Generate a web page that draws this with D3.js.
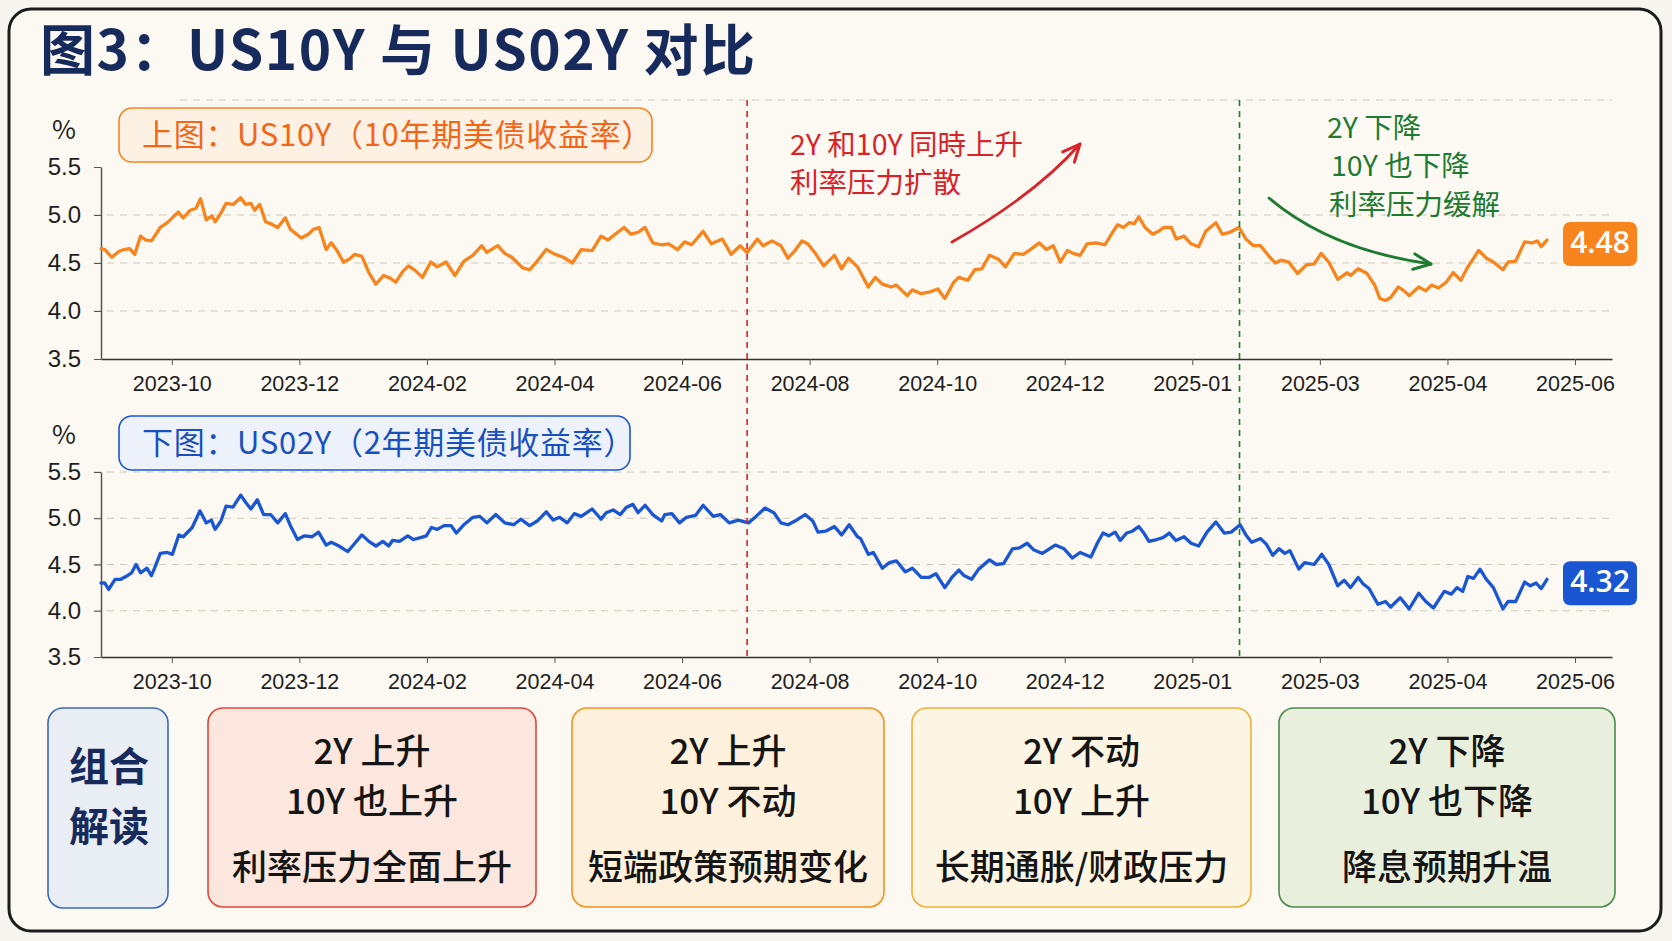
<!DOCTYPE html>
<html>
<head>
<meta charset="utf-8">
<script src="https://cdn.jsdelivr.net/npm/d3@7"></script>
<style>
  body { margin: 0; background: #f7f5ef; }
  svg { display: block; font-family: "Noto Sans CJK SC", "Noto Sans", sans-serif; }
</style>
</head>
<body>
<div id="chart"></div>
<script>
// data: t = months from the 2023-10 tick, v = yield in %
const xTickLabels = ["2023-10", "2023-12", "2024-02", "2024-04", "2024-06", "2024-08",
                     "2024-10", "2024-12", "2025-01", "2025-03", "2025-04", "2025-06"];
const yTicks = [3.5, 4.0, 4.5, 5.0, 5.5];

const us10y = [[-1.11,4.65],[-1.05,4.64],[-0.94,4.56],[-0.83,4.62],[-0.75,4.64],[-0.66,4.65],[-0.58,4.59],[-0.49,4.78],[-0.41,4.74],[-0.32,4.73],[-0.18,4.87],[-0.07,4.92],[0.10,5.03],[0.18,4.97],[0.29,5.05],[0.38,5.07],[0.45,5.17],[0.54,4.95],[0.63,4.99],[0.68,4.93],[0.77,5.02],[0.85,5.12],[0.96,5.11],[1.08,5.18],[1.16,5.11],[1.24,5.12],[1.30,5.05],[1.38,5.11],[1.47,4.93],[1.58,4.90],[1.66,4.87],[1.78,4.97],[1.86,4.85],[2.03,4.76],[2.14,4.80],[2.22,4.85],[2.31,4.87],[2.42,4.64],[2.50,4.71],[2.59,4.63],[2.69,4.51],[2.78,4.54],[2.87,4.59],[2.98,4.57],[3.09,4.40],[3.20,4.28],[3.32,4.37],[3.43,4.34],[3.51,4.30],[3.62,4.41],[3.71,4.47],[3.82,4.42],[3.93,4.35],[4.06,4.51],[4.16,4.46],[4.30,4.51],[4.44,4.37],[4.58,4.52],[4.72,4.58],[4.86,4.68],[4.94,4.61],[5.11,4.68],[5.22,4.60],[5.33,4.56],[5.50,4.45],[5.61,4.43],[5.73,4.52],[5.87,4.64],[6.01,4.59],
  [6.14,4.56],[6.28,4.50],[6.42,4.64],[6.59,4.63],[6.73,4.78],[6.84,4.74],[6.95,4.80],[7.09,4.87],[7.20,4.80],[7.31,4.82],[7.42,4.87],[7.54,4.71],[7.68,4.69],[7.79,4.70],[7.93,4.64],[8.04,4.72],[8.15,4.69],[8.33,4.83],[8.46,4.70],[8.63,4.75],[8.77,4.59],[8.91,4.68],[9.02,4.61],[9.18,4.75],[9.27,4.68],[9.41,4.73],[9.55,4.68],[9.66,4.55],[9.77,4.63],[9.88,4.73],[9.97,4.70],[10.08,4.61],[10.22,4.47],[10.39,4.58],[10.50,4.44],[10.61,4.55],[10.75,4.46],[10.92,4.25],[11.03,4.35],[11.14,4.28],[11.28,4.25],[11.36,4.27],[11.53,4.16],[11.61,4.22],[11.75,4.18],[11.89,4.20],[12.01,4.23],[12.12,4.13],[12.26,4.30],[12.34,4.35],[12.48,4.32],[12.59,4.43],[12.70,4.44],[12.82,4.58],[12.96,4.54],[13.07,4.46],[13.21,4.60],[13.35,4.59],[13.46,4.64],[13.60,4.71],[13.71,4.64],[13.82,4.68],[13.93,4.51],[14.04,4.63],[14.13,4.60],[14.24,4.58],[14.35,4.70],[14.49,4.71],
  [14.63,4.69],[14.75,4.82],[14.83,4.90],[14.92,4.87],[15.01,4.92],[15.09,4.91],[15.16,4.98],[15.26,4.87],[15.38,4.80],[15.47,4.83],[15.55,4.87],[15.67,4.87],[15.75,4.75],[15.87,4.78],[15.98,4.70],[16.10,4.67],[16.21,4.83],[16.37,4.92],[16.47,4.80],[16.59,4.82],[16.73,4.87],[16.84,4.75],[16.96,4.68],[17.07,4.68],[17.19,4.58],[17.30,4.50],[17.39,4.53],[17.51,4.51],[17.65,4.39],[17.79,4.48],[17.91,4.49],[18.02,4.60],[18.14,4.51],[18.28,4.33],[18.43,4.40],[18.48,4.37],[18.60,4.44],[18.74,4.39],[18.86,4.27],[18.94,4.13],[19.03,4.11],[19.11,4.14],[19.23,4.25],[19.32,4.21],[19.40,4.16],[19.55,4.25],[19.66,4.21],[19.75,4.27],[19.86,4.24],[19.98,4.30],[20.09,4.40],[20.21,4.32],[20.32,4.46],[20.49,4.63],[20.61,4.55],[20.72,4.51],[20.87,4.43],[20.95,4.51],[21.07,4.52],[21.21,4.72],[21.33,4.71],[21.41,4.73],[21.47,4.67],[21.56,4.74]];

const us02y = [[-1.11,4.30],[-1.05,4.30],[-0.99,4.23],[-0.89,4.34],[-0.80,4.34],[-0.72,4.37],[-0.63,4.41],[-0.56,4.50],[-0.49,4.41],[-0.39,4.46],[-0.32,4.38],[-0.27,4.46],[-0.18,4.62],[-0.07,4.63],[0.01,4.61],[0.11,4.82],[0.18,4.80],[0.32,4.90],[0.44,5.08],[0.54,4.95],[0.62,4.98],[0.68,4.88],[0.77,4.97],[0.85,5.13],[0.96,5.12],[1.08,5.25],[1.16,5.17],[1.24,5.10],[1.34,5.20],[1.44,5.04],[1.55,5.04],[1.66,4.95],[1.78,5.05],[1.86,4.92],[1.97,4.77],[2.08,4.81],[2.20,4.80],[2.30,4.85],[2.42,4.71],[2.50,4.74],[2.62,4.70],[2.76,4.64],[2.87,4.73],[2.98,4.82],[3.09,4.75],[3.20,4.70],[3.31,4.75],[3.40,4.70],[3.46,4.76],[3.57,4.75],[3.70,4.81],[3.79,4.77],[3.90,4.79],[3.99,4.81],[4.07,4.90],[4.16,4.88],[4.27,4.92],[4.38,4.92],[4.46,4.84],[4.58,4.93],[4.72,5.01],[4.83,5.02],[4.94,4.95],[5.08,5.04],[5.22,4.95],[5.36,4.93],[5.47,4.99],[5.61,4.92],[5.73,4.97],[5.87,5.07],[5.98,4.98],
  [6.08,5.01],[6.20,4.95],[6.31,5.05],[6.42,5.02],[6.59,5.10],[6.73,4.99],[6.81,5.06],[6.92,5.09],[7.03,5.04],[7.13,5.12],[7.23,5.15],[7.31,5.06],[7.42,5.14],[7.54,5.04],[7.68,4.97],[7.73,5.04],[7.84,5.05],[7.96,4.95],[8.07,5.01],[8.21,5.03],[8.33,5.14],[8.49,5.02],[8.60,5.04],[8.74,4.95],[8.88,4.98],[9.04,4.95],[9.16,5.02],[9.30,5.11],[9.44,5.06],[9.55,4.95],[9.66,4.93],[9.77,4.97],[9.93,5.04],[10.05,4.97],[10.13,4.85],[10.25,4.86],[10.39,4.91],[10.50,4.82],[10.62,4.93],[10.75,4.80],[10.80,4.78],[10.92,4.61],[11.00,4.63],[11.14,4.46],[11.25,4.52],[11.36,4.54],[11.50,4.42],[11.61,4.46],[11.75,4.36],[11.87,4.36],[11.98,4.40],[12.12,4.25],[12.23,4.36],[12.34,4.44],[12.42,4.38],[12.54,4.34],[12.65,4.45],[12.82,4.55],[12.93,4.50],[13.04,4.51],[13.18,4.67],[13.29,4.68],[13.41,4.73],[13.51,4.66],[13.65,4.62],[13.85,4.71],[13.99,4.67],[14.12,4.57],[14.24,4.63],[14.41,4.58],[14.51,4.73],
  [14.60,4.84],[14.69,4.81],[14.79,4.85],[14.87,4.76],[14.97,4.84],[15.06,4.86],[15.16,4.91],[15.24,4.84],[15.32,4.75],[15.44,4.77],[15.54,4.79],[15.64,4.84],[15.74,4.76],[15.87,4.80],[15.98,4.73],[16.10,4.70],[16.23,4.85],[16.37,4.96],[16.50,4.84],[16.61,4.85],[16.75,4.93],[16.84,4.82],[16.93,4.74],[17.07,4.78],[17.16,4.72],[17.26,4.60],[17.36,4.67],[17.45,4.62],[17.53,4.65],[17.67,4.45],[17.76,4.52],[17.91,4.50],[18.03,4.61],[18.14,4.50],[18.28,4.27],[18.38,4.33],[18.48,4.25],[18.60,4.36],[18.68,4.29],[18.77,4.24],[18.91,4.07],[19.03,4.10],[19.11,4.04],[19.26,4.14],[19.40,4.02],[19.55,4.19],[19.66,4.10],[19.78,4.03],[19.95,4.21],[20.06,4.18],[20.15,4.25],[20.24,4.21],[20.32,4.37],[20.41,4.35],[20.51,4.45],[20.61,4.34],[20.72,4.25],[20.87,4.02],[20.95,4.10],[21.07,4.10],[21.21,4.31],[21.30,4.27],[21.39,4.30],[21.47,4.24],[21.56,4.34]];

const latest10y = "4.48";
const latest2y = "4.32";
const eventMonths = [9.02, 16.74];   // red: both rise, green: both fall

const comboTitle = ["组合", "解读"];
const combos = [
  ["2Y 上升", "10Y 也上升", "利率压力全面上升"],
  ["2Y 上升", "10Y 不动", "短端政策预期变化"],
  ["2Y 不动", "10Y 上升", "长期通胀/财政压力"],
  ["2Y 下降", "10Y 也下降", "降息预期升温"]
];

const W = 1672, H = 941;
const svg = d3.select("#chart").append("svg").attr("width", W).attr("height", H);

// frame + title
svg.append("rect").attr("x", 9).attr("y", 9).attr("width", 1652).attr("height", 922)
  .attr("rx", 22).attr("fill", "#fbf9f2").attr("stroke", "#1c1c1c").attr("stroke-width", 3);

svg.append("text").attr("x", 40).attr("y", 55).attr("dominant-baseline", "middle")
  .attr("font-size", 55).attr("font-weight", 700).attr("fill", "#172a5c")
  .attr("letter-spacing", 1.5)
  .text("图3：US10Y 与 US02Y 对比");

const x = d3.scaleLinear().domain([-1.11, 22.58]).range([101, 1612]);

function panel(opts) {
  const y = d3.scaleLinear().domain([3.5, 5.5]).range(opts.yRange);
  const g = svg.append("g");

  // grid
  g.selectAll(".grid").data(opts.grid).join("line")
    .attr("x1", 94).attr("x2", 1612)
    .attr("y1", d => y(d)).attr("y2", d => y(d))
    .attr("stroke", "#cfcac0").attr("stroke-width", 1.2).attr("stroke-dasharray", "7,6");

  // axes
  const xa = g.append("g").attr("transform", `translate(0,${y(3.5)})`)
    .call(d3.axisBottom(x).tickValues(d3.range(0, 23, 2))
      .tickFormat((d, i) => xTickLabels[i]).tickSize(6).tickSizeOuter(0).tickPadding(11));
  xa.select(".domain").attr("stroke", "#333").attr("stroke-width", 1.5);
  xa.selectAll(".tick line").attr("stroke", "#555");
  xa.selectAll("text").attr("font-size", 21.5).attr("fill", "#1e1e1e");

  const ya = g.append("g").attr("transform", `translate(101,0)`)
    .call(d3.axisLeft(y).tickValues(yTicks).tickFormat(d3.format(".1f"))
      .tickSize(7).tickSizeOuter(0).tickPadding(13));
  ya.select(".domain").attr("stroke", "#555").attr("stroke-width", 1.5);
  ya.selectAll(".tick line").attr("stroke", "#555");
  ya.selectAll("text").attr("font-size", 24).attr("fill", "#1e1e1e");

  g.append("text").attr("x", 64).attr("y", opts.pctY).attr("text-anchor", "middle")
    .attr("dominant-baseline", "middle").attr("font-size", 26).attr("fill", "#1e1e1e").text("%");

  // label box
  g.append("rect").attr("x", 119).attr("y", opts.box[0]).attr("width", opts.box[1])
    .attr("height", 54).attr("rx", 13)
    .attr("fill", opts.boxFill).attr("stroke", opts.color).attr("stroke-width", 1.6);
  g.append("text").attr("x", 142).attr("y", opts.box[0] + 30).attr("dominant-baseline", "middle")
    .attr("font-size", 31).attr("letter-spacing", 0.7).attr("fill", opts.textColor).text(opts.label);

  // line
  g.append("path").datum(opts.data)
    .attr("fill", "none").attr("stroke", opts.color).attr("stroke-width", 3.3)
    .attr("stroke-linejoin", "round").attr("stroke-linecap", "round")
    .attr("d", d3.line().x(d => x(d[0])).y(d => y(d[1])));

  // latest value tag
  const last = opts.data[opts.data.length - 1];
  const ty = y(last[1]) + 4;
  g.append("rect").attr("x", 1563).attr("y", ty - 22).attr("width", 74).attr("height", 44)
    .attr("rx", 7).attr("fill", opts.color);
  g.append("text").attr("x", 1600).attr("y", ty + 1).attr("text-anchor", "middle")
    .attr("dominant-baseline", "middle").attr("font-size", 30).attr("font-weight", 600)
    .attr("fill", "#fff").attr("font-family", "'Open Sans', 'Noto Sans', sans-serif")
    .text(opts.tag);
  return y;
}

const yTop = panel({
  yRange: [359, 167], grid: [4.0, 4.5, 5.0], pctY: 132,
  box: [108, 533], boxFill: "#fdf1e4", color: "#f7841c", textColor: "#f2661a",
  label: "上图：US10Y（10年期美债收益率）", data: us10y, tag: latest10y
});
const yBot = panel({
  yRange: [657, 472], grid: [4.0, 4.5, 5.0, 5.5], pctY: 437,
  box: [416, 511], boxFill: "#edf2fa", color: "#1a56d2", textColor: "#1a4fbf",
  label: "下图：US02Y（2年期美债收益率）", data: us02y, tag: latest2y
});

// dashed separator above the top panel
svg.append("line").attr("x1", 180).attr("x2", 1612).attr("y1", 100).attr("y2", 100)
  .attr("stroke", "#cfcac0").attr("stroke-width", 1.2).attr("stroke-dasharray", "7,6");

// event lines across both panels
const eventColors = ["#d8232a", "#1f7a32"];
svg.selectAll(".event").data(eventMonths).join("line")
  .attr("x1", d => x(d)).attr("x2", d => x(d))
  .attr("y1", 100).attr("y2", yBot(3.5))
  .attr("stroke", (d, i) => eventColors[i]).attr("stroke-width", 1.6)
  .attr("stroke-dasharray", "6,5");

// annotations
function note(lines, x0, ys, color) {
  lines.forEach((t, i) => svg.append("text").attr("x", x0[i]).attr("y", ys[i])
    .attr("dominant-baseline", "middle").attr("font-size", 28.5).attr("fill", color).text(t));
}
function arrow(p0, c, p1, color) {
  svg.append("path").attr("d", `M${p0[0]},${p0[1]}Q${c[0]},${c[1]} ${p1[0]},${p1[1]}`)
    .attr("fill", "none").attr("stroke", color).attr("stroke-width", 2.8).attr("stroke-linecap", "round");
  const a = Math.atan2(p1[1] - c[1], p1[0] - c[0]), L = 19, w = 0.42;
  svg.append("path")
    .attr("d", `M${p1[0] - L * Math.cos(a - w)},${p1[1] - L * Math.sin(a - w)}L${p1[0]},${p1[1]}L${p1[0] - L * Math.cos(a + w)},${p1[1] - L * Math.sin(a + w)}`)
    .attr("fill", "none").attr("stroke", color).attr("stroke-width", 3)
    .attr("stroke-linecap", "round").attr("stroke-linejoin", "round");
}
note(["2Y 和10Y 同時上升", "利率压力扩散"], [790, 790], [147, 185], "#d8232a");
arrow([952, 242], [1035, 195], [1080, 144], "#d8232a");
note(["2Y 下降", "10Y 也下降", "利率压力缓解"], [1327, 1331, 1329], [130, 168, 207], "#1f7a32");
arrow([1269, 198], [1330, 250], [1431, 264], "#1f7a32");

// bottom interpretation boxes
svg.append("rect").attr("x", 48).attr("y", 708).attr("width", 120).attr("height", 200)
  .attr("rx", 15).attr("fill", "#e9eef5").attr("stroke", "#3a6ab8").attr("stroke-width", 1.6);
comboTitle.forEach((t, i) => svg.append("text").attr("x", 109).attr("y", 770 + i * 60)
  .attr("text-anchor", "middle").attr("dominant-baseline", "middle")
  .attr("font-size", 40).attr("font-weight", 700).attr("fill", "#172a5c").text(t));

const boxX = [208, 572, 912, 1279], boxW = [328, 312, 339, 336];
const boxStroke = ["#e2453a", "#f5901e", "#f0b03a", "#4a8a4a"];
const boxFill = ["#fbe7dd", "#fdf0dc", "#fdf5e3", "#e9efdd"];
const cards = svg.selectAll(".card").data(combos).join("g");
cards.append("rect").attr("x", (d, i) => boxX[i]).attr("y", 708)
  .attr("width", (d, i) => boxW[i]).attr("height", 199).attr("rx", 15)
  .attr("fill", (d, i) => boxFill[i]).attr("stroke", (d, i) => boxStroke[i]).attr("stroke-width", 1.6);
cards.each(function(d, i) {
  d3.select(this).selectAll("text").data(d).join("text")
    .attr("x", boxX[i] + boxW[i] / 2).attr("y", (t, j) => [754, 804, 870][j])
    .attr("text-anchor", "middle").attr("dominant-baseline", "middle")
    .attr("font-size", 35).attr("font-weight", 500).attr("fill", "#151515").text(t => t);
});
</script>
</body>
</html>
